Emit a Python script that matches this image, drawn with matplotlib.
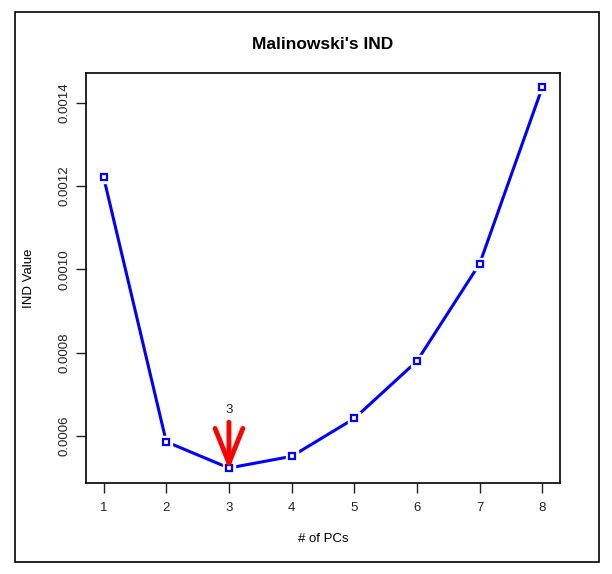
import numpy as np
import matplotlib
matplotlib.use('Agg')
import matplotlib.pyplot as plt
from matplotlib.patches import Rectangle

plt.rcParams['font.family'] = ['Liberation Sans', 'DejaVu Sans']

# IND values per number of PCs
n_pcs = [1, 2, 3, 4, 5, 6, 7, 8]
ind_vals = [0.001222, 0.000586, 0.000523, 0.000551, 0.000642, 0.000780, 0.001014, 0.001438]
best_pc = 3
yticks = [0.0006, 0.0008, 0.0010, 0.0012, 0.0014]

fig = plt.figure(figsize=(6.12, 5.74), dpi=100)
# outer frame round the whole device
fig.patches.append(Rectangle((15/612, 1-562/574), (599-15)/612, (562-12)/574,
                             transform=fig.transFigure, fill=False, ec='black', lw=1.2))

ax = fig.add_axes([86/612, 1-483/574, (560-86)/612, (483-73)/574])

# R type="b": line with gaps round the points
ax.plot(n_pcs, ind_vals, color='blue', lw=2.2, zorder=2)
ax.plot(n_pcs, ind_vals, ls='none', marker='s', ms=9, mfc='white', mec='white', zorder=3)
ax.plot(n_pcs, ind_vals, ls='none', marker='s', ms=4.5, mfc='none', mec='blue', mew=1.6, zorder=4)

# arrow at the chosen number of PCs
y_best = ind_vals[best_pc - 1]
ax.annotate('', xy=(best_pc, y_best - 0.000004), xytext=(best_pc, y_best + 0.000110),
            arrowprops=dict(arrowstyle='->,head_length=2.5,head_width=1.0', color='red',
                            lw=3.5, shrinkA=0, shrinkB=0), zorder=5)
ax.text(best_pc, y_best + 0.000126, str(best_pc), ha='center', va='bottom', fontsize=9.5, color='#222222')

ax.set_xlim(0.72, 8.28)
ax.set_ylim(0.000487, 0.0014715)
ax.set_xticks(n_pcs)
ax.set_yticks(yticks)
ax.set_yticklabels(['%.4f' % v for v in yticks], rotation=90, va='center')
ax.tick_params(axis='both', labelsize=9.5, length=7, width=1, colors='#222222')
ax.tick_params(axis='y', pad=4)
ax.tick_params(axis='x', pad=7)

# R style axes: box round the plot
for s in ax.spines.values():
    s.set_linewidth(1.2)

ax.set_title("Malinowski's IND", fontsize=12.5, fontweight='bold', pad=17)
ax.set_xlabel('# of PCs', fontsize=9.5, labelpad=13)
ax.set_ylabel('IND Value', fontsize=9.5, labelpad=17)

fig.savefig('out.png', dpi=100)
